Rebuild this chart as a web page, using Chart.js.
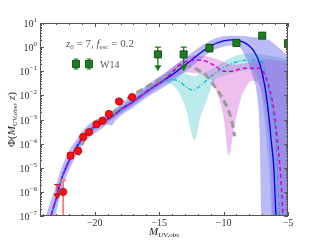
<!DOCTYPE html>
<html>
<head>
<meta charset="utf-8">
<script src="https://cdn.jsdelivr.net/npm/chart.js@4.4.1/dist/chart.umd.min.js"></script>
<style>
  html, body { margin: 0; padding: 0; background: #fff; }
</style>
</head>
<body>
<canvas id="myChart" width="320" height="240"></canvas>
<script>
// ---- data ----
const xTickValues = [-20, -15, -10, -5];
const yTickExponents = [-7, -6, -5, -4, -3, -2, -1, 0, 1];

// bright end, shared by the three model curves
const brightM   = [-23.6, -23.4, -23.0, -22.6, -22.2, -21.8, -21.4, -21.0, -20.5, -20.0, -19.5, -19.0, -18.6, -18.0, -17.0, -16.0, -15.0];
const brightPhi = [3e-8, 1.0e-7, 5.0e-7, 3.2e-6, 1.1e-5, 3.2e-5, 7.1e-5, 1.6e-4, 3.2e-4, 5.0e-4, 7.1e-4, 1.05e-3, 1.4e-3, 2.5e-3, 5.6e-3, 1.4e-2, 3.2e-2];

const blueFaintM   = [-14.0, -13.0, -12.0, -11.0, -10.0, -9.3, -8.5, -8.0, -7.6, -7.2, -6.8, -6.5, -6.3, -6.1, -6.0, -5.94, -5.9];
const blueFaintPhi = [7.1e-2, 0.18, 0.47, 1.12, 1.8, 2.0, 1.66, 1.12, 0.63, 0.21, 2.5e-2, 1.6e-3, 1.26e-4, 1.0e-5, 6.3e-7, 1.0e-7, 2e-8];

const magFaintM   = [-14.5, -14.0, -13.5, -13.0, -12.1, -11.3, -10.6, -10.0, -9.4, -8.8, -8.3, -7.3, -7.0, -6.7, -6.4, -6.1, -5.8, -5.55, -5.4, -5.35];
const magFaintPhi = [5.0e-2, 8.9e-2, 0.166, 0.24, 0.29, 0.25, 0.158, 0.1, 0.1, 0.12, 0.132, 0.132, 0.112, 5.0e-2, 1.58e-2, 2.5e-3, 1.0e-4, 3.2e-6, 1.0e-7, 1e-8];

const cyanFaintM   = [-14.7, -14.0, -13.4, -12.9, -12.4, -11.8, -11.3, -10.3, -9.3, -8.2, -7.5, -6.95, -6.7, -6.4, -6.1, -5.92, -5.79, -5.66, -5.6];
const cyanFaintPhi = [4.0e-2, 4.5e-2, 3.7e-2, 2.24e-2, 1.66e-2, 2.5e-2, 4.3e-2, 0.112, 0.214, 0.29, 0.29, 0.214, 6.3e-2, 1.0e-2, 1.0e-3, 1.4e-4, 3.2e-6, 1.0e-7, 1e-8];

const grayM   = [-21.3, -21.0, -20.5, -20.0, -19.5, -19.0, -18.5, -18.0, -17.0, -16.0, -15.0, -14.0, -13.4, -12.9, -12.4, -11.9, -11.3, -10.6, -10.0, -9.5, -9.2, -9.15];
const grayPhi = [3.2e-5, 8.9e-5, 2.5e-4, 5.0e-4, 7.6e-4, 1.12e-3, 2.0e-3, 4.5e-3, 1.05e-2, 2.2e-2, 4.5e-2, 8.9e-2, 0.141, 0.166, 0.151, 0.105, 6.3e-2, 2.0e-2, 6.3e-3, 1.58e-3, 3.2e-4, 2.0e-4];

const blueBandM  = [-23.9, -23.5, -23.1, -22.7, -22.3, -21.9, -21.5, -21.0, -20.5, -20.0, -19.5, -19.0, -18.7, -18.4, -18.0, -17.0, -16.0, -15.0, -14.0, -13.0, -12.0, -11.0, -10.0, -9.0, -8.3, -7.8, -7.4, -7.2, -7.05, -6.5, -6.0, -5.5, -5.0];
const blueBandHi = [6.3e-8, 3.2e-7, 1.26e-6, 6.3e-6, 2.24e-5, 6.3e-5, 1.26e-4, 3.2e-4, 6.0e-4, 9.3e-4, 1.26e-3, 1.78e-3, 2.24e-3, 2.8e-3, 4.5e-3, 1.0e-2, 2.5e-2, 6.0e-2, 0.141, 0.355, 0.89, 1.9, 2.8, 2.95, 2.8, 2.6, 2.5, 2.45, 2.4, 2.0, 1.26, 0.76, 0.4];
const blueBandLo = [1e-9, 1e-8, 7.9e-8, 6.3e-7, 3.2e-6, 1.0e-5, 2.8e-5, 7.9e-5, 1.66e-4, 2.6e-4, 4.0e-4, 6.0e-4, 5.6e-4, 8.9e-4, 1.4e-3, 3.2e-3, 7.9e-3, 1.66e-2, 3.8e-2, 9.5e-2, 0.25, 0.63, 1.05, 1.2, 0.4, 7.9e-2, 1.0e-2, 3.2e-4, 6.3e-8, 1e-9, 1e-9, 1e-9, 1e-9];

const pinkBandM  = [-23.5, -23.0, -22.5, -22.0, -21.0, -20.0, -19.0, -18.0, -17.0, -16.0, -15.0, -14.0, -13.0, -12.0, -11.0, -10.5, -10.0, -9.6, -9.2, -8.7, -8.2, -7.8, -7.3, -6.8, -6.4, -6.0, -5.5, -5.0];
const pinkBandHi = [8.9e-8, 7.1e-7, 6.3e-6, 2.5e-5, 2.24e-4, 7.1e-4, 1.48e-3, 3.55e-3, 7.9e-3, 2.0e-2, 5.0e-2, 0.141, 0.355, 0.447, 0.38, 0.316, 0.24, 0.2, 0.19, 0.2, 0.224, 0.25, 0.28, 0.316, 0.316, 0.3, 0.263, 0.224];
const pinkBandLo = [4.5e-8, 3.55e-7, 3.2e-6, 1.26e-5, 1.12e-4, 3.55e-4, 7.4e-4, 1.78e-3, 4.0e-3, 1.0e-2, 2.24e-2, 5.0e-2, 8.9e-2, 7.9e-2, 4.5e-2, 1.26e-2, 1.26e-3, 3.2e-5, 4.0e-4, 6.3e-3, 2.5e-2, 4.0e-2, 3.2e-2, 3.2e-3, 3.2e-5, 1e-9, 1e-9, 1e-9];

const cyanBandM  = [-23.5, -23.0, -22.5, -22.0, -21.0, -20.0, -19.0, -18.0, -17.0, -16.0, -15.0, -14.5, -14.0, -13.4, -12.9, -12.25, -11.8, -11.3, -10.8, -10.0, -9.0, -8.0, -7.5, -7.0, -6.5, -6.0, -5.5, -5.0];
const cyanBandHi = [7.9e-8, 6.3e-7, 5.6e-6, 2.24e-5, 2.0e-4, 6.3e-4, 1.35e-3, 3.2e-3, 7.1e-3, 1.78e-2, 4.2e-2, 7.9e-2, 0.1, 0.1, 7.9e-2, 6.3e-2, 7.9e-2, 0.1, 0.132, 0.25, 0.447, 0.56, 0.56, 0.5, 0.447, 0.4, 0.355, 0.316];
const cyanBandLo = [4.0e-8, 4.0e-7, 3.55e-6, 1.4e-5, 1.26e-4, 4.0e-4, 7.9e-4, 1.9e-3, 4.3e-3, 1.07e-2, 2.4e-2, 3.2e-2, 2.8e-2, 1.12e-2, 2.5e-3, 1.4e-4, 1.26e-3, 6.3e-3, 3.55e-2, 6.3e-2, 8.9e-2, 0.112, 7.9e-2, 6.3e-3, 1.0e-5, 1e-9, 1e-9, 1e-9];

// observed points
const redM     = [-22.45, -21.88, -21.29, -20.9, -20.44, -19.87, -19.4, -18.9, -18.12, -17.1];
const redPhi   = [1.0e-6, 3.2e-5, 5.0e-5, 1.9e-4, 3.0e-4, 6.3e-4, 8.9e-4, 1.7e-3, 5.6e-3, 8.5e-3];
const redErrHi = [3.0e-6, 4.2e-5, 6.5e-5, 2.3e-4, 3.6e-4, 7.4e-4, 1.0e-3, 2.0e-3, 6.8e-3, 1.05e-2];
const redErrLo = [1e-9, 2.4e-5, 3.8e-5, 1.55e-4, 2.5e-4, 5.3e-4, 7.6e-4, 1.4e-3, 4.6e-3, 6.9e-3];
const redLimM   = [-22.92];
const redLimPhi = [7.0e-7];
const redLimTop = [2.0e-6];

const greenM     = [-15.1, -13.1, -11.1, -9.0, -7.0, -5.0];
const greenPhi   = [0.5, 0.5, 0.9, 1.5, 3.0, 1.45];
const greenErrHi = [1.0, 1.0, 1.3, 1.6, 3.0, 1.45];
const greenErrLo = [0.12, 0.12, 0.65, 1.4, 3.0, 1.45];
const greenIsLimit = [true, true, false, false, false, false];

function pts(xs, ys) {
  return xs.map(function(x, i) { return {x: x, y: ys[i]}; });
}

const serif = '"Liberation Serif", "DejaVu Serif", serif';

// draws a row of text pieces (different fonts / offsets), returns width
function richText(ctx, parts, x, y, align) {
  let w = 0;
  parts.forEach(function(p) { ctx.font = p.font; w += ctx.measureText(p.t).width; });
  let cx = align === 'center' ? x - w / 2 : (align === 'right' ? x - w : x);
  parts.forEach(function(p) {
    ctx.font = p.font;
    ctx.fillText(p.t, cx, y + (p.dy || 0));
    cx += ctx.measureText(p.t).width;
  });
  return w;
}

const errorBars = {
  id: 'errorBars',
  beforeDatasetDraw(chart, args) {
    const ctx = chart.ctx, a = chart.chartArea;
    const x = chart.scales.x, y = chart.scales.y;
    ctx.save();
    ctx.beginPath();
    ctx.rect(a.left, a.top, a.width, a.height);
    ctx.clip();
    if (args.index === 2) {
      ctx.strokeStyle = '#1a7a1a';
      ctx.fillStyle = '#1a7a1a';
      ctx.lineWidth = 1.3;
      greenM.forEach(function(m, i) {
        const px = x.getPixelForValue(m);
        const yh = y.getPixelForValue(greenErrHi[i]);
        const yl = y.getPixelForValue(greenErrLo[i]);
        if (yl - yh < 1) return;
        ctx.beginPath();
        ctx.moveTo(px, yh); ctx.lineTo(px, greenIsLimit[i] ? yl - 3 : yl);
        ctx.moveTo(px - 3, yh); ctx.lineTo(px + 3, yh);
        if (!greenIsLimit[i]) { ctx.moveTo(px - 3, yl); ctx.lineTo(px + 3, yl); }
        ctx.stroke();
        if (greenIsLimit[i]) {
          ctx.beginPath();
          ctx.moveTo(px - 3.5, yl - 4); ctx.lineTo(px + 3.5, yl - 4); ctx.lineTo(px, yl + 2);
          ctx.closePath(); ctx.fill();
        }
      });
    }
    if (args.index === 0) {
      redM.forEach(function(m, i) {
        const px = x.getPixelForValue(m);
        const yh = y.getPixelForValue(redErrHi[i]);
        const yl = y.getPixelForValue(redErrLo[i]);
        ctx.strokeStyle = i === 0 ? '#f47c7c' : '#e51a1a';
        ctx.lineWidth = i === 0 ? 1.8 : 1.2;
        ctx.beginPath();
        ctx.moveTo(px, yh); ctx.lineTo(px, yl);
        ctx.moveTo(px - 3, yh); ctx.lineTo(px + 3, yh);
        if (i > 0) { ctx.moveTo(px - 3, yl); ctx.lineTo(px + 3, yl); }
        ctx.stroke();
      });
      redLimM.forEach(function(m, i) {
        const px = x.getPixelForValue(m);
        const yt = y.getPixelForValue(redLimTop[i]);
        const yp = y.getPixelForValue(redLimPhi[i]);
        ctx.strokeStyle = '#e51a1a';
        ctx.lineWidth = 1.2;
        ctx.beginPath();
        ctx.moveTo(px, yt); ctx.lineTo(px, yp);
        ctx.moveTo(px - 3, yt); ctx.lineTo(px + 3, yt);
        ctx.stroke();
      });
    }
    ctx.restore();
  }
};

const frameAndText = {
  id: 'frameAndText',
  afterDraw(chart) {
    const ctx = chart.ctx, a = chart.chartArea;
    const x = chart.scales.x, y = chart.scales.y;
    ctx.save();
    // frame
    ctx.strokeStyle = '#555';
    ctx.lineWidth = 1;
    ctx.strokeRect(a.left + 0.5, a.top + 0.5, a.width - 1, a.height - 1);
    // x ticks, inward, bottom and top
    ctx.beginPath();
    for (let m = Math.ceil(x.min); m <= x.max; m++) {
      const px = Math.round(x.getPixelForValue(m)) + 0.5;
      const len = xTickValues.indexOf(m) >= 0 ? 4 : 2;
      ctx.moveTo(px, a.bottom); ctx.lineTo(px, a.bottom - len);
      ctx.moveTo(px, a.top); ctx.lineTo(px, a.top + len);
    }
    // y ticks, major and minor
    yTickExponents.forEach(function(e) {
      const base = Math.pow(10, e);
      for (let k = 1; k <= 9; k++) {
        const v = k * base;
        if (v > y.max * 1.0001) break;
        const py = Math.round(y.getPixelForValue(v)) + 0.5;
        const len = k === 1 ? 4 : 2;
        ctx.moveTo(a.left, py); ctx.lineTo(a.left + len, py);
        ctx.moveTo(a.right, py); ctx.lineTo(a.right - len, py);
      }
    });
    ctx.stroke();

    // x tick labels
    ctx.fillStyle = '#333';
    ctx.textBaseline = 'alphabetic';
    ctx.textAlign = 'left';
    x.ticks.forEach(function(t) {
      const px = x.getPixelForValue(t.value);
      const s = t.value < 0 ? '\u2212' + Math.abs(t.value) : String(t.value);
      richText(ctx, [{t: s, font: '10px ' + serif}], px, a.bottom + 10, 'center');
    });

    // y tick labels 10^n
    y.ticks.forEach(function(t) {
      const py = y.getPixelForValue(t.value);
      const e = Math.round(Math.log10(t.value));
      const expStr = e < 0 ? '\u2212' + Math.abs(e) : String(e);
      richText(ctx, [
        {t: '10', font: '10px ' + serif, dy: 0},
        {t: expStr, font: '7px ' + serif, dy: -5}
      ], a.left - 3, py + 4, 'right');
    });

    // axis titles
    ctx.fillStyle = '#222';
    richText(ctx, [
      {t: 'M', font: 'italic 11px ' + serif, dy: 0},
      {t: 'UV,obs', font: '7px ' + serif, dy: 2}
    ], (a.left + a.right) / 2, 235, 'center');

    ctx.save();
    ctx.translate(11, (a.top + a.bottom) / 2);
    ctx.rotate(-Math.PI / 2);
    richText(ctx, [
      {t: '\u03a6(', font: '11px ' + serif, dy: 0},
      {t: 'M', font: 'italic 11px ' + serif, dy: 0},
      {t: 'UV,obs', font: '7px ' + serif, dy: 2},
      {t: ', ', font: '11px ' + serif, dy: 0},
      {t: 'z', font: 'italic 11px ' + serif, dy: 0},
      {t: ')', font: '11px ' + serif, dy: 0}
    ], 0, 4, 'center');
    ctx.restore();

    // in-plot legend text
    ctx.fillStyle = '#555';
    richText(ctx, [
      {t: 'z', font: 'italic 11px ' + serif, dy: 0},
      {t: '0', font: '7px ' + serif, dy: 2},
      {t: ' = 7, ', font: '11px ' + serif, dy: 0},
      {t: 'f', font: 'italic 11px ' + serif, dy: 0},
      {t: 'esc', font: '7px ' + serif, dy: 2},
      {t: ' = 0.2', font: '11px ' + serif, dy: 0}
    ], a.left + 26, a.top + 24, 'left');

    // W14 legend entry
    const ly = a.top + 41;
    [a.left + 36, a.left + 49].forEach(function(lx) {
      ctx.strokeStyle = '#1a7a1a';
      ctx.lineWidth = 1.2;
      ctx.beginPath();
      ctx.moveTo(lx, ly - 5); ctx.lineTo(lx, ly + 5);
      ctx.moveTo(lx - 2.5, ly - 5); ctx.lineTo(lx + 2.5, ly - 5);
      ctx.moveTo(lx - 2.5, ly + 5); ctx.lineTo(lx + 2.5, ly + 5);
      ctx.stroke();
      ctx.fillStyle = '#1f7d1f';
      ctx.strokeStyle = '#0b4a0b';
      ctx.lineWidth = 0.8;
      ctx.fillRect(lx - 3.5, ly - 3.5, 7, 7);
      ctx.strokeRect(lx - 3.5, ly - 3.5, 7, 7);
    });
    ctx.fillStyle = '#555';
    ctx.font = '10px ' + serif;
    ctx.fillText('W14', a.left + 60, ly + 3.5);
    ctx.restore();
  }
};

function band(data, color, target, order) {
  return {
    data: data, borderWidth: 0, pointRadius: 0,
    backgroundColor: color, fill: target,
    cubicInterpolationMode: 'monotone', order: order
  };
}

document.addEventListener('DOMContentLoaded', function() {
  const ctx = document.getElementById('myChart').getContext('2d');
  new Chart(ctx, {
    type: 'line',
    data: {
      datasets: [
        { // 0 red points
          data: pts(redM, redPhi), showLine: false, pointStyle: 'circle', pointRadius: 3.6,
          backgroundColor: '#ff1010', borderColor: '#b30000', pointBorderWidth: 0.8, order: 0
        },
        { // 1 red upper limit
          data: pts(redLimM, redLimPhi), showLine: false, pointStyle: 'triangle', pointRotation: 180,
          pointRadius: 3.5, backgroundColor: '#ff1010', borderColor: '#b30000', pointBorderWidth: 0.8, order: 0
        },
        { // 2 green W14
          data: pts(greenM, greenPhi), showLine: false, pointStyle: 'rect', pointRadius: 5,
          backgroundColor: '#1f7d1f', borderColor: '#0b4a0b', pointBorderWidth: 0.9, order: 0
        },
        { // 3 magenta dashed
          data: pts(brightM.concat(magFaintM), brightPhi.concat(magFaintPhi)),
          borderColor: '#d000d0', borderWidth: 1.5, borderDash: [4, 3], pointRadius: 0,
          cubicInterpolationMode: 'monotone', fill: false, order: 1
        },
        { // 4 cyan dash-dot
          data: pts(brightM.concat(cyanFaintM), brightPhi.concat(cyanFaintPhi)),
          borderColor: '#00b8c0', borderWidth: 1.2, borderDash: [4, 2, 1, 2], pointRadius: 0,
          cubicInterpolationMode: 'monotone', fill: false, order: 2
        },
        { // 5 blue solid
          data: pts(brightM.concat(blueFaintM), brightPhi.concat(blueFaintPhi)),
          borderColor: '#0000e6', borderWidth: 1.3, pointRadius: 0,
          cubicInterpolationMode: 'monotone', fill: false, order: 3
        },
        { // 6 gray dashed
          data: pts(grayM, grayPhi),
          borderColor: '#9a9a9a', borderWidth: 3, borderDash: [7, 4], pointRadius: 0,
          cubicInterpolationMode: 'monotone', fill: false, order: 4
        },
        band(pts(blueBandM, blueBandLo), 'rgba(0,0,0,0)', false, 10),          // 7
        band(pts(blueBandM, blueBandHi), 'rgba(90, 90, 235, 0.42)', 7, 10),    // 8
        band(pts(pinkBandM, pinkBandLo), 'rgba(0,0,0,0)', false, 11),          // 9
        band(pts(pinkBandM, pinkBandHi), 'rgba(215, 100, 215, 0.42)', 9, 11),  // 10
        band(pts(cyanBandM, cyanBandLo), 'rgba(0,0,0,0)', false, 12),          // 11
        band(pts(cyanBandM, cyanBandHi), 'rgba(90, 205, 210, 0.42)', 11, 12)   // 12
      ]
    },
    options: {
      responsive: false,
      animation: false,
      devicePixelRatio: 1,
      layout: { padding: { left: 0, right: 32, top: 23, bottom: 0 } },
      plugins: { legend: { display: false }, tooltip: { enabled: false } },
      scales: {
        x: {
          type: 'linear', min: -24.25, max: -5,
          afterBuildTicks: function(s) { s.ticks = xTickValues.map(function(v) { return {value: v}; }); },
          afterFit: function(s) { s.height = 24; },
          grid: { display: false }, border: { display: false },
          ticks: { display: false }
        },
        y: {
          type: 'logarithmic', min: 1e-7, max: 10,
          afterBuildTicks: function(s) { s.ticks = yTickExponents.map(function(e) { return {value: Math.pow(10, e)}; }); },
          afterFit: function(s) { s.width = 40; },
          grid: { display: false }, border: { display: false },
          ticks: { display: false }
        }
      }
    },
    plugins: [errorBars, frameAndText]
  });
});
</script>
</body>
</html>
